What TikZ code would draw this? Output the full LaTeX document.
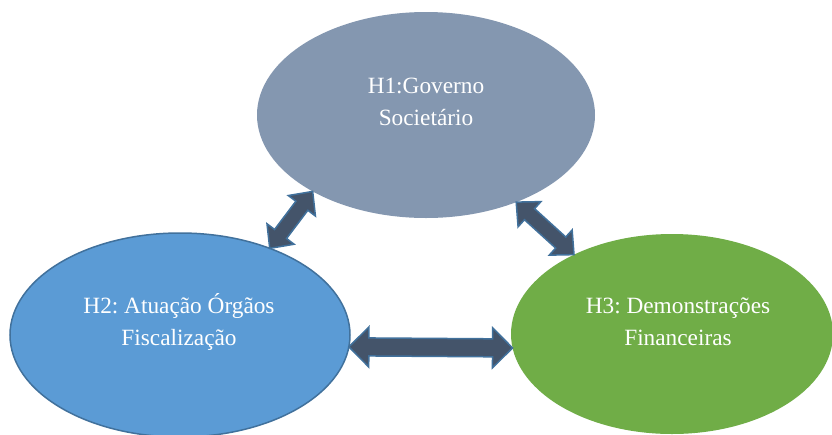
\documentclass[tikz,border=0pt]{standalone}
\usepackage{fontspec}
\setmainfont{Liberation Serif}
\usetikzlibrary{shapes.geometric,calc}
\definecolor{cH1}{HTML}{8497B0}
\definecolor{cH2}{HTML}{5B9BD5}
\definecolor{cH2b}{HTML}{41719C}
\definecolor{cH3}{HTML}{70AD47}
\definecolor{cArr}{HTML}{44546A}
\definecolor{cArrB}{HTML}{41719C}
\tikzset{
  bubble/.style={ellipse, inner sep=0pt, outer sep=0pt},
  lbl/.style={text=white, font=\fontsize{23.3}{28}\selectfont\frenchspacing, inner sep=0pt, anchor=base},
  blockarrow/.style={fill=cArr, draw=cArrB, line width=1.5pt, line join=miter},
}
\newcommand\dblarrow[5]{%
  \coordinate (ha) at ($(#1)!#3!(#2)$);
  \coordinate (hb) at ($(#2)!#3!(#1)$);
  \draw[blockarrow] (#1) -- ($(ha)!#5!90:(#2)$) -- ($(ha)!#4!90:(#2)$)
     -- ($(hb)!#4!-90:(#1)$) -- ($(hb)!#5!-90:(#1)$) -- (#2)
     -- ($(hb)!#5!90:(#1)$) -- ($(hb)!#4!90:(#1)$)
     -- ($(ha)!#4!-90:(#2)$) -- ($(ha)!#5!-90:(#2)$) -- cycle;
}
\begin{document}
\begin{tikzpicture}[x=1pt,y=-1pt]
\useasboundingbox (0,0) rectangle (832,434);
\fill[white] (0,0) rectangle (832,434);
\node[bubble, fill=cH1, minimum width=338pt, minimum height=206pt] (h1) at (426,115) {};
\node[bubble, fill=cH2, draw=cH2b, line width=1.5pt, minimum width=340pt, minimum height=204pt] (h2) at (180,335) {};
\node[bubble, fill=cH3, minimum width=322pt, minimum height=200pt] (h3) at (672,334) {};
\dblarrow{h2.44}{h1.214}{18pt}{7.5pt}{17pt}
\dblarrow{h1.316}{h3.141}{18pt}{7.5pt}{17pt}
\dblarrow{h2.-4}{h3.185}{20pt}{9pt}{20pt}
\node[lbl] (t1a) at (426,93) {H1:Governo};
\node[lbl] (t1b) at (426,125) {Societário};
\node[lbl] (t2a) at (179,313) {H2: Atuação Órgãos};
\node[lbl] (t2b) at (179,345) {Fiscalização};
\node[lbl] (t3a) at (678,313) {H3: Demonstrações};
\node[lbl] (t3b) at (678,345) {Financeiras};
\end{tikzpicture}
\end{document}
